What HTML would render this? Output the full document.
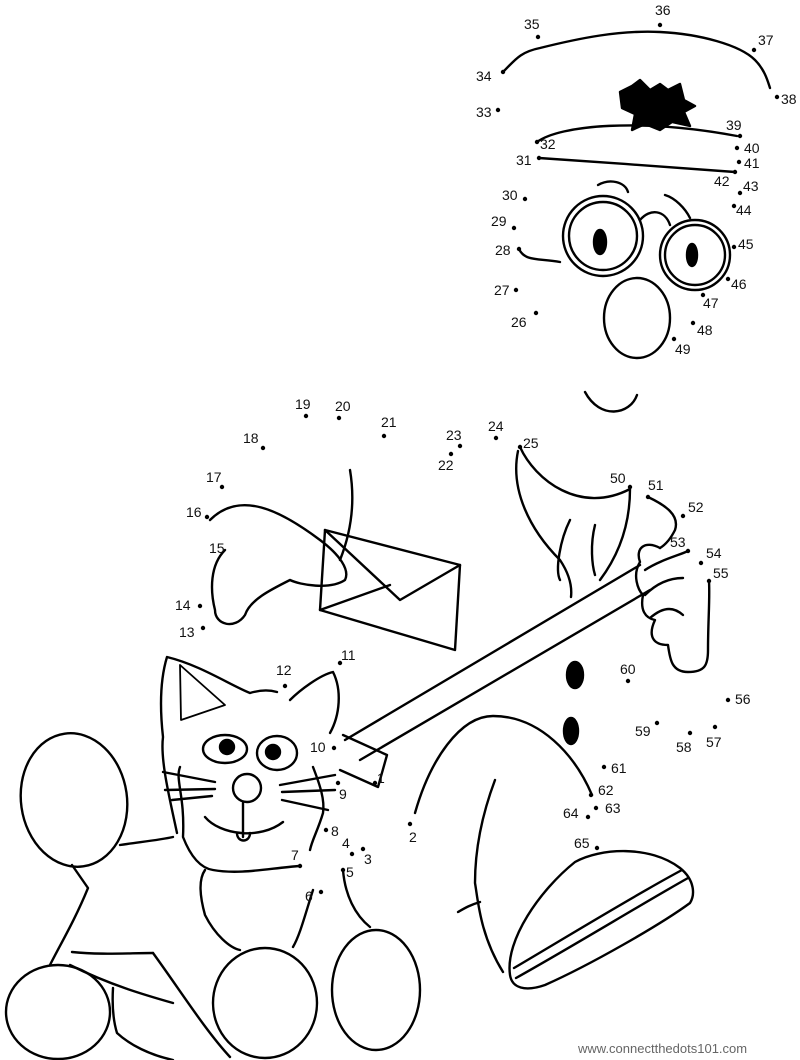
<!DOCTYPE html>
<html><head><meta charset="utf-8"><style>
html,body{margin:0;padding:0;background:#fff}
svg{display:block}
text{font-family:"Liberation Sans",sans-serif;font-size:14px;fill:#111}
</style></head><body>
<svg width="800" height="1060" viewBox="0 0 800 1060" xmlns="http://www.w3.org/2000/svg">
<g fill="none" stroke="#000" stroke-width="2.4" stroke-linecap="round" stroke-linejoin="round">
<path d="M503,72 C515,60 520,52 540,48 C580,38 620,30 660,32 C700,34 740,45 755,60 C765,70 768,82 770,88"/>
<path d="M537,142 C560,125 640,118 737,136"/>
<path d="M539,158 C600,162 680,168 735,172"/>
<path d="M620,92 L632,86 L640,80 L650,90 L660,84 L668,90 L680,84 L684,100 L695,106 L684,112 L690,126 L672,122 L660,130 L645,124 L632,130 L635,114 L622,108 Z" fill="#000"/>
<path d="M598,185 C610,178 625,182 628,192"/>
<path d="M665,195 C675,198 685,208 690,218"/>
<path d="M519,249 C525,262 540,258 560,262"/>
<circle cx="603" cy="236" r="40"/><circle cx="603" cy="236" r="34"/>
<circle cx="695" cy="255" r="35"/><circle cx="695" cy="255" r="30"/>
<path d="M640,220 C650,208 665,210 670,225"/>
<ellipse cx="600" cy="242" rx="6" ry="12" fill="#000"/>
<ellipse cx="692" cy="255" rx="5" ry="11" fill="#000"/>
<ellipse cx="637" cy="318" rx="33" ry="40"/>
<path d="M585,392 C600,420 630,415 637,395"/>
<path d="M325,530 L460,565 L455,650 L320,610 Z"/>
<path d="M325,530 L400,600 L460,565"/>
<path d="M320,610 L390,585"/>
<path d="M210,520 C240,490 280,510 320,540 C340,555 350,570 345,580 C330,590 300,585 290,580 C270,590 250,600 245,615 C235,630 215,625 215,610 C210,590 210,565 225,550"/>
<path d="M350,470 C355,500 352,530 340,560"/>
<path d="M518,451 C510,490 530,530 560,560 C570,575 572,588 571,597"/>
<path d="M520,447 C535,480 580,515 630,489 C630,530 615,560 600,580"/>
<path d="M570,520 C560,540 555,570 560,580 M595,525 C590,545 592,565 595,575"/>
<path d="M345,740 L640,565"/>
<path d="M360,760 L650,590"/>
<path d="M343,735 L387,755 L378,787 L340,770"/>
<path d="M648,497 C665,505 680,515 675,530 C670,540 665,545 660,548"/>
<path d="M660,548 C645,540 635,548 640,562 C632,575 638,590 643,595 C640,610 645,618 655,620 C648,635 652,645 668,645 C670,660 672,672 688,672 C705,672 708,665 708,650 C708,620 710,600 709,581"/>
<path d="M645,570 C660,560 680,555 688,551 M645,595 C660,580 675,578 683,578 M650,618 C665,605 675,608 683,615"/>
<ellipse cx="575" cy="675" rx="8" ry="13" fill="#000"/>
<ellipse cx="571" cy="731" rx="7" ry="13" fill="#000"/>
<path d="M415,813 C430,760 460,716 493,716 C540,716 575,755 592,795"/>
<path d="M495,780 C480,820 475,855 475,883 C478,900 480,935 503,972"/>
<path d="M480,902 C470,905 465,908 458,912"/>
<!-- shoe -->
<path d="M510,975 C505,940 540,890 575,862 C600,848 650,845 680,868 C695,880 695,895 690,903 C660,925 590,965 545,985 C525,992 512,988 510,975 Z"/>
<path d="M516,978 C575,945 640,905 688,878"/>
<path d="M514,968 C570,935 635,895 682,870"/>
<path d="M177,833 C170,800 160,760 163,737 C160,710 160,680 167,657 C200,665 230,685 250,693 C260,690 270,690 277,692"/>
<path d="M290,700 C300,690 320,675 333,672 C342,690 340,715 330,733"/>
<path d="M180,665 L181,720 L225,705 Z" stroke-width="1.8"/>
<path d="M180,767 C175,780 185,795 183,837 C190,855 200,868 213,870 C240,875 270,868 300,866"/>
<path d="M313,767 C320,785 325,800 323,813 C318,830 312,840 310,850"/>
<ellipse cx="225" cy="749" rx="22" ry="14"/><ellipse cx="277" cy="753" rx="20" ry="17"/>
<circle cx="227" cy="747" r="7" fill="#000"/><circle cx="273" cy="752" r="7" fill="#000"/>
<circle cx="247" cy="788" r="14"/>
<path d="M243,803 L243,837 M205,817 C220,835 260,840 283,822"/>
<path d="M237,833 C237,843 250,843 250,833"/>
<path d="M215,782 L163,772 M215,789 L165,790 M212,796 L172,800 M280,785 L335,775 M282,792 L335,790 M282,800 L328,810"/>
<path d="M205,870 C198,880 200,897 205,915 C215,935 230,948 240,950"/>
<path d="M313,890 C305,915 300,935 293,947"/>
<path d="M120,845 C140,842 160,840 173,837"/>
<path d="M72,865 L88,888 C75,920 60,945 50,965"/>
<path d="M72,952 C100,955 130,953 153,953"/>
<path d="M70,965 C110,985 145,995 173,1003"/>
<path d="M113,988 C112,1005 113,1020 117,1033 C130,1045 150,1055 173,1060"/>
<path d="M153,953 C180,990 205,1030 230,1057"/>
<ellipse cx="74" cy="800" rx="53" ry="67" transform="rotate(-8 74 800)"/>
<ellipse cx="58" cy="1012" rx="52" ry="47"/>
<ellipse cx="265" cy="1003" rx="52" ry="55"/>
<ellipse cx="376" cy="990" rx="44" ry="60"/>
<path d="M343,870 C345,895 355,915 370,927"/>
</g>
<g fill="#000">
<circle cx="375" cy="783" r="2.2"/><circle cx="410" cy="824" r="2.2"/><circle cx="363" cy="849" r="2.2"/><circle cx="352" cy="854" r="2.2"/><circle cx="343" cy="870" r="2.2"/><circle cx="321" cy="892" r="2.2"/><circle cx="300" cy="866" r="2.2"/><circle cx="326" cy="830" r="2.2"/><circle cx="338" cy="783" r="2.2"/><circle cx="334" cy="748" r="2.2"/>
<circle cx="340" cy="663" r="2.2"/><circle cx="285" cy="686" r="2.2"/><circle cx="203" cy="628" r="2.2"/><circle cx="200" cy="606" r="2.2"/><circle cx="207" cy="517" r="2.2"/><circle cx="222" cy="487" r="2.2"/><circle cx="263" cy="448" r="2.2"/><circle cx="306" cy="416" r="2.2"/><circle cx="339" cy="418" r="2.2"/><circle cx="384" cy="436" r="2.2"/>
<circle cx="451" cy="454" r="2.2"/><circle cx="460" cy="446" r="2.2"/><circle cx="496" cy="438" r="2.2"/><circle cx="520" cy="447" r="2.2"/><circle cx="536" cy="313" r="2.2"/><circle cx="516" cy="290" r="2.2"/><circle cx="519" cy="249" r="2.2"/><circle cx="514" cy="228" r="2.2"/><circle cx="525" cy="199" r="2.2"/><circle cx="539" cy="158" r="2.2"/>
<circle cx="537" cy="142" r="2.2"/><circle cx="498" cy="110" r="2.2"/><circle cx="503" cy="72" r="2.2"/><circle cx="538" cy="37" r="2.2"/><circle cx="660" cy="25" r="2.2"/><circle cx="754" cy="50" r="2.2"/><circle cx="777" cy="97" r="2.2"/><circle cx="740" cy="136" r="2.2"/><circle cx="737" cy="148" r="2.2"/><circle cx="739" cy="162" r="2.2"/>
<circle cx="735" cy="172" r="2.2"/><circle cx="740" cy="193" r="2.2"/><circle cx="734" cy="206" r="2.2"/><circle cx="734" cy="247" r="2.2"/><circle cx="728" cy="279" r="2.2"/><circle cx="703" cy="295" r="2.2"/><circle cx="693" cy="323" r="2.2"/><circle cx="674" cy="339" r="2.2"/><circle cx="630" cy="487" r="2.2"/><circle cx="648" cy="497" r="2.2"/>
<circle cx="683" cy="516" r="2.2"/><circle cx="688" cy="551" r="2.2"/><circle cx="701" cy="563" r="2.2"/><circle cx="709" cy="581" r="2.2"/><circle cx="728" cy="700" r="2.2"/><circle cx="715" cy="727" r="2.2"/><circle cx="690" cy="733" r="2.2"/><circle cx="657" cy="723" r="2.2"/><circle cx="628" cy="681" r="2.2"/><circle cx="604" cy="767" r="2.2"/>
<circle cx="591" cy="795" r="2.2"/><circle cx="596" cy="808" r="2.2"/><circle cx="588" cy="817" r="2.2"/><circle cx="597" cy="848" r="2.2"/>
</g>
<g>
<text x="377" y="783">1</text><text x="409" y="842">2</text><text x="364" y="864">3</text><text x="342" y="848">4</text><text x="346" y="877">5</text><text x="305" y="901">6</text><text x="291" y="860">7</text><text x="331" y="836">8</text><text x="339" y="799">9</text><text x="310" y="752">10</text>
<text x="341" y="660">11</text><text x="276" y="675">12</text><text x="179" y="637">13</text><text x="175" y="610">14</text><text x="209" y="553">15</text><text x="186" y="517">16</text><text x="206" y="482">17</text><text x="243" y="443">18</text><text x="295" y="409">19</text><text x="335" y="411">20</text>
<text x="381" y="427">21</text><text x="438" y="470">22</text><text x="446" y="440">23</text><text x="488" y="431">24</text><text x="523" y="448">25</text><text x="511" y="327">26</text><text x="494" y="295">27</text><text x="495" y="255">28</text><text x="491" y="226">29</text><text x="502" y="200">30</text>
<text x="516" y="165">31</text><text x="540" y="149">32</text><text x="476" y="117">33</text><text x="476" y="81">34</text><text x="524" y="29">35</text><text x="655" y="15">36</text><text x="758" y="45">37</text><text x="781" y="104">38</text><text x="726" y="130">39</text><text x="744" y="153">40</text>
<text x="744" y="168">41</text><text x="714" y="186">42</text><text x="743" y="191">43</text><text x="736" y="215">44</text><text x="738" y="249">45</text><text x="731" y="289">46</text><text x="703" y="308">47</text><text x="697" y="335">48</text><text x="675" y="354">49</text><text x="610" y="483">50</text>
<text x="648" y="490">51</text><text x="688" y="512">52</text><text x="670" y="547">53</text><text x="706" y="558">54</text><text x="713" y="578">55</text><text x="735" y="704">56</text><text x="706" y="747">57</text><text x="676" y="752">58</text><text x="635" y="736">59</text><text x="620" y="674">60</text>
<text x="611" y="773">61</text><text x="598" y="795">62</text><text x="605" y="813">63</text><text x="563" y="818">64</text><text x="574" y="848">65</text>
<text x="578" y="1053" style="font-size:13px;fill:#666">www.connectthedots101.com</text>
</g>
</svg>
</body></html>
